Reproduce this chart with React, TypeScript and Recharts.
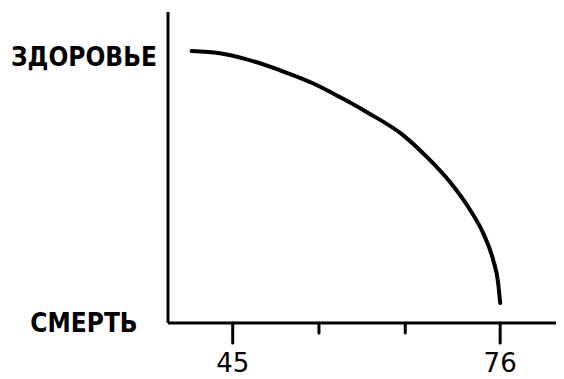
import React from 'react';
import { LineChart, Line, XAxis, YAxis } from 'recharts';

const ages = [40.24, 43.49, 46.63, 50.46, 54.29, 57.42, 60.56, 64.74, 67.52, 70.19, 72.52, 74.03, 75.19, 75.77, 76.0];
const health = [102.3, 101.5, 99.2, 95.1, 90.2, 85.0, 79.3, 70.7, 62.4, 53.0, 42.5, 33.8, 23.7, 15.0, 7.5];

const xTicks = [45, 55, 65, 76];
const xTickLabels = ['45', '', '', '76'];
const yTicks = [0, 100];
const yTickLabels = ['СМЕРТЬ', 'ЗДОРОВЬЕ'];

const data = ages.map((age, i) => ({ age, health: health[i] }));

const labelFont = '"DejaVu Sans Condensed", "DejaVu Sans", sans-serif';

function AgeTick({ x, y, index }: any) {
  const label = xTickLabels[index];
  const major = label !== '';
  return (
    <g>
      <line x1={x} y1={y} x2={x} y2={y + (major ? 20 : 10)} stroke="#000" strokeWidth={3} strokeLinecap="round" />
      {major && (
        <text x={x} y={y + 49} textAnchor="middle" fontFamily='"DejaVu Sans", sans-serif' fontSize={26} fill="#000">
          {label}
        </text>
      )}
    </g>
  );
}

function StateTick({ x, y, index }: any) {
  return (
    <text x={x - 84} y={y} textAnchor="middle" dominantBaseline="central" fontFamily={labelFont} fontWeight={700} fontSize={26} fill="#000">
      {yTickLabels[index]}
    </text>
  );
}

export default function App() {
  return (
    <div style={{ width: 556, height: 371, background: '#fff' }}>
      <LineChart width={556} height={371} data={data} margin={{ top: 4, right: 0, left: 0, bottom: 0 }}>
        <XAxis
          dataKey="age"
          type="number"
          domain={[37.5, 83.4]}
          ticks={xTicks}
          allowDataOverflow
          height={56}
          tickSize={0}
          tickMargin={0}
          tickLine={false}
          axisLine={{ stroke: '#000', strokeWidth: 3 }}
          tick={<AgeTick />}
        />
        <YAxis
          type="number"
          domain={[0, 117]}
          ticks={yTicks}
          allowDataOverflow
          width={160}
          tickSize={0}
          tickMargin={0}
          tickLine={false}
          axisLine={{ stroke: '#000', strokeWidth: 3 }}
          tick={<StateTick />}
        />
        <Line
          dataKey="health"
          type="monotone"
          stroke="#000"
          strokeWidth={4}
          strokeLinecap="round"
          dot={false}
          isAnimationActive={false}
        />
      </LineChart>
    </div>
  );
}
